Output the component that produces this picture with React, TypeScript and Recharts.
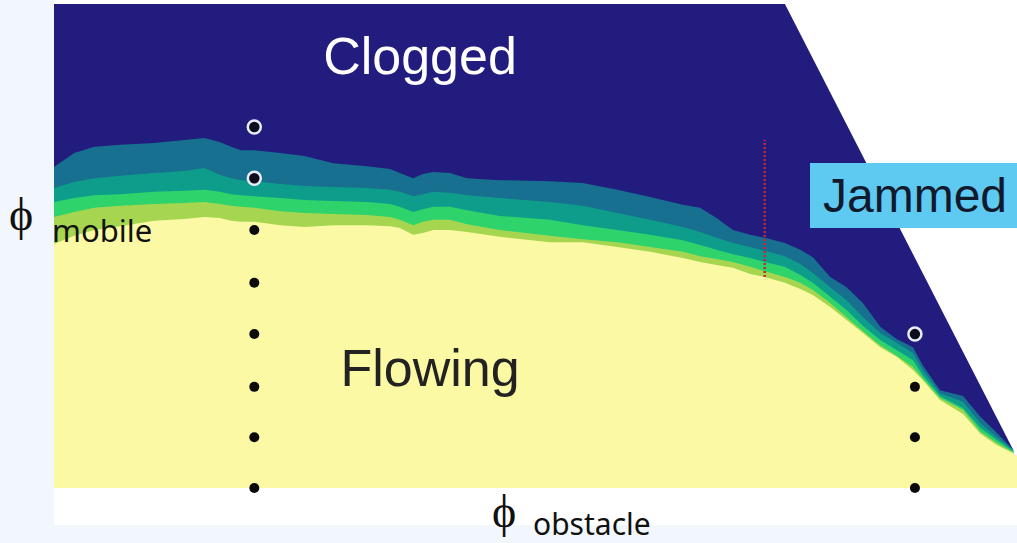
import React from "react";
import { ComposedChart, Area, Scatter, XAxis, YAxis, ReferenceLine } from "recharts";

// phi_obstacle sample positions (normalised 0..1)
const obstacleX = [0, 0.021, 0.042, 0.069, 0.104, 0.135, 0.156, 0.172, 0.184, 0.194, 0.208, 0.235, 0.26, 0.29, 0.325, 0.349, 0.359, 0.373, 0.383, 0.394, 0.411, 0.429, 0.463, 0.515, 0.549, 0.585, 0.619, 0.653, 0.671, 0.688, 0.705, 0.723, 0.738, 0.759, 0.775, 0.788, 0.806, 0.823, 0.84, 0.858, 0.875, 0.892, 0.902, 0.92, 0.944, 0.962, 0.979, 0.996, 1.0];

// phi_mobile of each contour (top of each coloured band)
const tealTop = [0.663, 0.692, 0.705, 0.709, 0.713, 0.719, 0.723, 0.715, 0.705, 0.698, 0.698, 0.692, 0.686, 0.671, 0.665, 0.659, 0.651, 0.64, 0.649, 0.653, 0.651, 0.64, 0.636, 0.634, 0.63, 0.616, 0.601, 0.585, 0.579, 0.558, 0.533, 0.523, 0.517, 0.506, 0.492, 0.477, 0.436, 0.415, 0.382, 0.333, 0.308, 0.291, 0.254, 0.202, 0.19, 0.147, 0.114, 0.079, null];
const midTealTop = [0.62, 0.632, 0.64, 0.645, 0.651, 0.655, 0.661, 0.647, 0.64, 0.636, 0.634, 0.628, 0.624, 0.622, 0.62, 0.616, 0.612, 0.603, 0.607, 0.612, 0.61, 0.605, 0.599, 0.591, 0.583, 0.568, 0.554, 0.539, 0.529, 0.517, 0.506, 0.498, 0.49, 0.479, 0.463, 0.444, 0.415, 0.388, 0.353, 0.32, 0.3, 0.279, 0.244, 0.196, 0.178, 0.134, 0.105, 0.079, null];
const greenTop = [0.591, 0.599, 0.605, 0.607, 0.612, 0.614, 0.616, 0.612, 0.607, 0.605, 0.603, 0.599, 0.595, 0.593, 0.591, 0.587, 0.581, 0.57, 0.576, 0.581, 0.581, 0.574, 0.562, 0.554, 0.543, 0.533, 0.523, 0.512, 0.502, 0.492, 0.483, 0.475, 0.467, 0.457, 0.44, 0.424, 0.395, 0.368, 0.335, 0.306, 0.285, 0.264, 0.233, 0.19, 0.165, 0.124, 0.099, 0.076, null];
const limeTop = [0.56, 0.57, 0.579, 0.583, 0.587, 0.589, 0.591, 0.587, 0.583, 0.581, 0.579, 0.572, 0.568, 0.566, 0.564, 0.56, 0.554, 0.543, 0.55, 0.554, 0.554, 0.545, 0.533, 0.521, 0.514, 0.508, 0.498, 0.488, 0.479, 0.473, 0.467, 0.457, 0.448, 0.436, 0.424, 0.409, 0.382, 0.353, 0.324, 0.295, 0.273, 0.25, 0.227, 0.186, 0.161, 0.116, 0.093, 0.074, null];
const flowTop = [0.504, 0.521, 0.533, 0.541, 0.552, 0.556, 0.56, 0.558, 0.552, 0.55, 0.55, 0.543, 0.539, 0.543, 0.543, 0.541, 0.537, 0.523, 0.527, 0.533, 0.533, 0.529, 0.519, 0.508, 0.508, 0.498, 0.488, 0.475, 0.467, 0.461, 0.455, 0.442, 0.436, 0.424, 0.411, 0.399, 0.374, 0.347, 0.32, 0.291, 0.271, 0.244, 0.223, 0.182, 0.153, 0.112, 0.089, 0.072, 0.066];

// clogged / jammed boundary
const clogX = [0, 0.759, 0.996];
const clogY = [1.0, 1.0, 0.079];

// simulation points
const flowingPts = [
  { x: 0.208, y: 0.533 }, { x: 0.208, y: 0.424 }, { x: 0.208, y: 0.318 }, { x: 0.208, y: 0.209 },
  { x: 0.208, y: 0.105 }, { x: 0.208, y: 0 },
  { x: 0.894, y: 0.209 }, { x: 0.894, y: 0.105 }, { x: 0.894, y: 0 },
];
const cloggedPts = [
  { x: 0.208, y: 0.746 }, { x: 0.208, y: 0.64 }, { x: 0.894, y: 0.318 },
];

// dashed marker
const markerX = 0.738;
const markerY = [0.436, 0.719];

const rows = obstacleX.map((x, i) => {
  const ci = clogX.indexOf(x);
  return {
    x,
    clog: ci >= 0 ? clogY[ci] : undefined,
    teal: tealTop[i] ?? undefined,
    midTeal: midTealTop[i] ?? undefined,
    green: greenTop[i] ?? undefined,
    lime: limeTop[i] ?? undefined,
    flow: flowTop[i] ?? undefined,
  };
});

const FilledDot = (p: any) => <circle cx={p.cx} cy={p.cy} r={5} fill="#0a0a0a" />;
const OpenDot = (p: any) => (
  <circle cx={p.cx} cy={p.cy} r={6.5} fill="#0d0d20" stroke="#e8ecf4" strokeWidth={2.5} />
);

const bands: [string, string][] = [
  ["clog", "#211c7d"],
  ["teal", "#17708f"],
  ["midTeal", "#0f9d8b"],
  ["green", "#2ed36c"],
  ["lime", "#a6d650"],
  ["flow", "#fbf9a4"],
];

export default function App() {
  return (
    <div style={{ position: "absolute", left: 0, top: 0, width: 1017, height: 543, background: "#f1f7fc", overflow: "hidden" }}>
      <div style={{ position: "absolute", left: 54, top: 0, width: 963, height: 525, background: "#ffffff" }} />
      <div style={{ position: "absolute", left: 0, top: 0 }}>
        <ComposedChart width={1017} height={543} data={rows} margin={{ top: 4, right: 0, bottom: 55, left: 54 }}>
          <XAxis dataKey="x" type="number" domain={[0, 1]} hide />
          <YAxis type="number" domain={[0, 1]} hide />
          {bands.map(([key, color]) => (
            <Area
              key={key}
              type="linear"
              dataKey={key}
              baseValue={0}
              connectNulls={key === "clog"}
              stroke="none"
              fill={color}
              fillOpacity={1}
              dot={false}
              activeDot={false}
              isAnimationActive={false}
            />
          ))}
          <ReferenceLine
            segment={[{ x: markerX, y: markerY[0] }, { x: markerX, y: markerY[1] }]}
            stroke="#c3263d"
            strokeWidth={2.5}
            strokeDasharray="2 2"
          />
          <Scatter data={flowingPts} dataKey="y" shape={FilledDot} isAnimationActive={false} />
          <Scatter data={cloggedPts} dataKey="y" shape={OpenDot} isAnimationActive={false} />
        </ComposedChart>
      </div>
      <svg width={1017} height={543} style={{ position: "absolute", left: 0, top: 0, pointerEvents: "none" }}>
        <text x={420} y={74} textAnchor="middle" fill="#ffffff" fontFamily="Liberation Sans, Arial, sans-serif" fontSize={52}>Clogged</text>
        <text x={430} y={386} textAnchor="middle" fill="#222222" fontFamily="Liberation Sans, Arial, sans-serif" fontSize={52}>Flowing</text>
        <rect x={810} y={163} width={207} height={65} fill="#5ec9f1" />
        <text x={915} y={212} textAnchor="middle" fill="#111a2c" fontFamily="Liberation Sans, Arial, sans-serif" fontSize={48}>Jammed</text>
        <text x={9} y={230} fill="#111" fontFamily="Liberation Serif, serif" fontSize={46}>ϕ</text>
        <text x={52} y={242} fill="#111" fontFamily="Noto Sans, sans-serif" fontSize={31}>mobile</text>
        <text x={492} y={527} fill="#111" fontFamily="Liberation Serif, serif" fontSize={46}>ϕ</text>
        <text x={533} y={535} fill="#111" fontFamily="Noto Sans, sans-serif" fontSize={30}>obstacle</text>
      </svg>
    </div>
  );
}
